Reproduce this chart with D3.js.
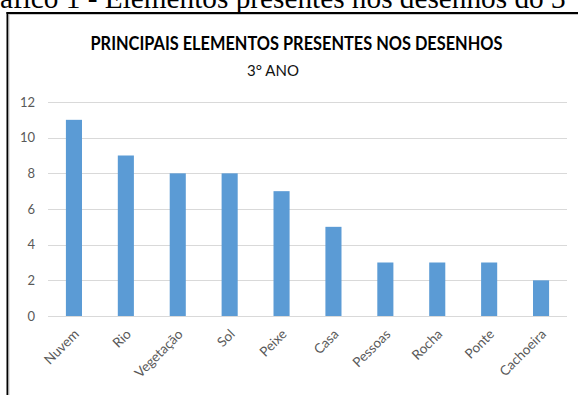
<!DOCTYPE html>
<html>
<head>
<meta charset="utf-8">
<script src="https://cdn.jsdelivr.net/npm/d3@7/dist/d3.min.js"></script>
<style>
  html, body { margin: 0; padding: 0; background: #fff; overflow: hidden; }
  svg { display: block; }
</style>
</head>
<body>
<svg id="chart" width="578" height="395"></svg>
<script>
// Chart data
const categories = ["Nuvem", "Rio", "Vegetação", "Sol", "Peixe", "Casa", "Pessoas", "Rocha", "Ponte", "Cachoeira"];
const values = [11, 9, 8, 8, 7, 5, 3, 3, 3, 2];
const yTicks = [0, 2, 4, 6, 8, 10, 12];
const captionText = "Gráfico 1 - Elementos presentes nos desenhos do 3° ano";
const titleText = "PRINCIPAIS ELEMENTOS PRESENTES NOS DESENHOS";
const subtitleText = "3° ANO";

const svg = d3.select("#chart");
const W = 578, H = 395;

// Document caption above the chart frame (runs past the page edges)
const cap = svg.append("text")
  .attr("font-family", "'Liberation Serif', 'Times New Roman', serif")
  .attr("font-size", 20)
  .attr("fill", "#000")
  .attr("y", 8)
  .text(captionText);
const capNode = cap.node();
const endIdx = captionText.indexOf("3°") + 1;
const visW = capNode.getSubStringLength(2, endIdx - 2);
const capScale = 566 / visW;
cap.attr("font-size", 20 * capScale);
cap.attr("x", -capNode.getSubStringLength(0, 2));

// Chart frame
svg.append("line").attr("x1", 6.5).attr("x2", W).attr("y1", 13).attr("y2", 13)
  .attr("stroke", "#000").attr("stroke-width", 2);
svg.append("line").attr("x1", 7.5).attr("x2", 7.5).attr("y1", 12).attr("y2", H)
  .attr("stroke", "#000").attr("stroke-width", 2);
svg.append("line").attr("x1", 9).attr("x2", W).attr("y1", 14.5).attr("y2", 14.5)
  .attr("stroke", "#c8c8c8").attr("stroke-width", 1);
svg.append("line").attr("x1", 9).attr("x2", 9).attr("y1", 14).attr("y2", H)
  .attr("stroke", "#c8c8c8").attr("stroke-width", 1);

// Titles
svg.append("text")
  .attr("x", 296.5).attr("y", 49.5)
  .attr("text-anchor", "middle")
  .attr("font-family", "Lato, 'Open Sans', sans-serif")
  .attr("font-weight", "bold")
  .attr("font-size", 19)
  .attr("fill", "#000")
  .attr("textLength", 412)
  .attr("lengthAdjust", "spacingAndGlyphs")
  .text(titleText);

svg.append("text")
  .attr("x", 273).attr("y", 76)
  .attr("text-anchor", "middle")
  .attr("font-family", "Lato, 'Open Sans', sans-serif")
  .attr("font-size", 15)
  .attr("fill", "#111")
  .text(subtitleText);

// Scales
const x = d3.scaleBand()
  .domain(categories)
  .range([48, 567])
  .paddingInner(0.69)
  .paddingOuter(0.345);

const y = d3.scaleLinear()
  .domain([0, 12])
  .range([316, 102]);

// Gridlines
svg.append("g")
  .selectAll("line")
  .data(yTicks)
  .join("line")
  .attr("x1", 48).attr("x2", 567)
  .attr("y1", d => Math.round(y(d)) + 0.5)
  .attr("y2", d => Math.round(y(d)) + 0.5)
  .attr("stroke", "#d9d9d9")
  .attr("stroke-width", 1.2);

// Y axis labels
const yAxis = d3.axisLeft(y).tickValues(yTicks).tickSize(0).tickPadding(0);
const yg = svg.append("g")
  .attr("transform", "translate(35,0)")
  .call(yAxis);
yg.select(".domain").remove();
yg.selectAll("text")
  .attr("font-family", "Lato, 'Open Sans', sans-serif")
  .attr("font-size", 13)
  .attr("fill", "#595959");

// Bars
svg.append("g")
  .selectAll("rect")
  .data(categories)
  .join("rect")
  .attr("x", d => x(d))
  .attr("width", x.bandwidth())
  .attr("y", (d, i) => y(values[i]))
  .attr("height", (d, i) => y(0) - y(values[i]))
  .attr("fill", "#5b9bd5");

// X axis labels, rotated
svg.append("g")
  .selectAll("text")
  .data(categories)
  .join("text")
  .attr("transform", d => `translate(${x(d) + x.bandwidth() / 2 + 6},${335}) rotate(-45)`)
  .attr("text-anchor", "end")
  .attr("font-family", "Lato, 'Open Sans', sans-serif")
  .attr("font-size", 13.5)
  .attr("fill", "#595959")
  .text(d => d);
</script>
</body>
</html>
